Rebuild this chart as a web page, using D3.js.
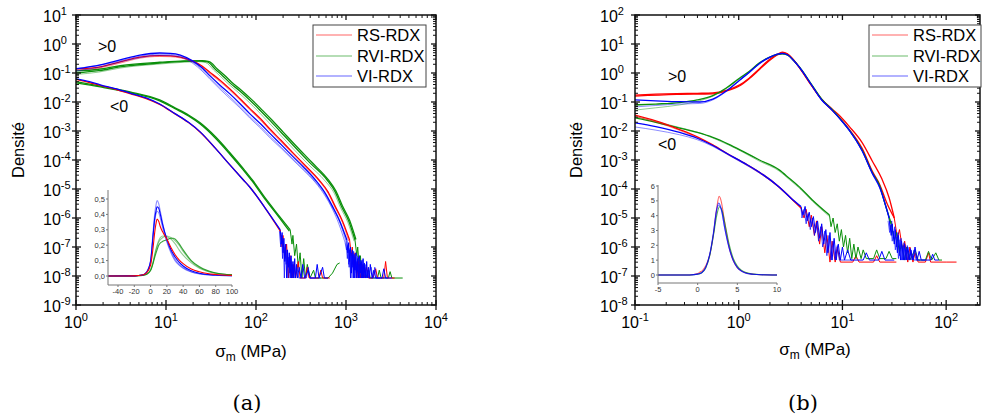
<!DOCTYPE html>
<html><head><meta charset="utf-8">
<script src="https://cdn.jsdelivr.net/npm/d3@7"></script>
<style>body{margin:0;background:#fff} text{font-family:"Liberation Sans",Arial,sans-serif;fill:#000}</style>
</head><body><svg id="c" width="985" height="417"></svg>
<script>
// ---------- DATA (pairs are [log10 sigma_m, log10 density]) ----------
const seriesNames = ["RS-RDX","RVI-RDX","VI-RDX"];
const seriesColors = ["#ff0000","#0a8f0a","#0000ff"];

// Panel (a), positive stresses
const aPosRS1 = [[0,-0.86],[0.27,-0.79],[0.49,-0.62],[0.71,-0.45],[0.93,-0.40],[1.05,-0.41],[1.16,-0.45],[1.3,-0.59],[1.4,-0.76],[1.49,-0.98],[1.6,-1.25],[1.71,-1.55],[1.82,-1.88],[1.93,-2.22],[2.05,-2.58],[2.16,-2.95],[2.28,-3.33],[2.4,-3.72],[2.55,-4.2],[2.7,-4.69],[2.8,-5.1],[2.88,-5.6],[2.96,-6.1],[3.04,-6.76]];
const aPosRS2 = [[0,-0.9],[0.27,-0.82],[0.49,-0.66],[0.71,-0.49],[0.93,-0.43],[1.05,-0.44],[1.16,-0.48],[1.3,-0.62],[1.4,-0.8],[1.49,-1.03],[1.6,-1.3],[1.71,-1.6],[1.82,-1.93],[1.93,-2.27],[2.05,-2.63],[2.16,-3.0],[2.28,-3.38],[2.4,-3.77],[2.55,-4.25],[2.7,-4.72],[2.8,-5.15],[2.88,-5.65],[2.96,-6.15],[3.03,-6.8]];
const aPosRVI1 = [[0,-1.0],[0.25,-0.92],[0.49,-0.79],[0.93,-0.66],[1.2,-0.60],[1.38,-0.59],[1.46,-0.62],[1.55,-0.88],[1.63,-1.1],[1.71,-1.34],[1.82,-1.62],[1.93,-1.93],[2.05,-2.3],[2.16,-2.65],[2.28,-3.05],[2.4,-3.45],[2.6,-4.1],[2.79,-4.69],[2.88,-5.1],[2.95,-5.6],[3.03,-6.1],[3.1,-6.76]];
const aPosRVI2 = [[0,-0.93],[0.25,-0.87],[0.49,-0.75],[0.93,-0.63],[1.2,-0.58],[1.4,-0.57],[1.48,-0.61],[1.57,-0.86],[1.65,-1.08],[1.73,-1.32],[1.84,-1.6],[1.95,-1.91],[2.07,-2.28],[2.18,-2.63],[2.3,-3.03],[2.42,-3.43],[2.62,-4.08],[2.8,-4.67],[2.89,-5.08],[2.96,-5.58],[3.04,-6.08],[3.11,-6.74]];
const aPosRVI3 = [[0,-1.05],[0.25,-0.97],[0.49,-0.83],[0.93,-0.69],[1.2,-0.63],[1.36,-0.61],[1.44,-0.64],[1.53,-0.9],[1.61,-1.13],[1.69,-1.37],[1.8,-1.66],[1.91,-1.97],[2.03,-2.34],[2.14,-2.7],[2.26,-3.1],[2.38,-3.5],[2.58,-4.15],[2.77,-4.73],[2.87,-5.15],[2.94,-5.65],[3.02,-6.15],[3.09,-6.8]];
const aPosVI1 = [[0,-0.86],[0.27,-0.72],[0.49,-0.55],[0.71,-0.38],[0.93,-0.31],[1.05,-0.32],[1.16,-0.38],[1.3,-0.59],[1.4,-0.82],[1.49,-1.10],[1.6,-1.42],[1.71,-1.72],[1.82,-2.05],[1.93,-2.40],[2.05,-2.75],[2.16,-3.10],[2.28,-3.47],[2.4,-3.85],[2.53,-4.25],[2.66,-4.69],[2.76,-5.1],[2.85,-5.6],[2.93,-6.1],[3.01,-6.76]];
const aPosVI2 = [[0,-0.84],[0.27,-0.73],[0.49,-0.58],[0.71,-0.42],[0.93,-0.35],[1.05,-0.36],[1.16,-0.41],[1.3,-0.63],[1.4,-0.88],[1.49,-1.17],[1.6,-1.5],[1.71,-1.82],[1.82,-2.15],[1.93,-2.5],[2.05,-2.85],[2.16,-3.2],[2.28,-3.56],[2.4,-3.93],[2.53,-4.32],[2.66,-4.75],[2.76,-5.15],[2.85,-5.65],[2.93,-6.15],[3.0,-6.8]];
const aPosVI3 = [[0,-0.93],[0.27,-0.79],[0.49,-0.62],[0.71,-0.47],[0.93,-0.39],[1.05,-0.4],[1.16,-0.45],[1.3,-0.67],[1.4,-0.93],[1.49,-1.22],[1.6,-1.56],[1.71,-1.88],[1.82,-2.2],[1.93,-2.55],[2.05,-2.9],[2.16,-3.25],[2.28,-3.6],[2.4,-3.97],[2.53,-4.36],[2.66,-4.78],[2.76,-5.2],[2.85,-5.7],[2.92,-6.2],[2.99,-6.85]];
// Panel (a), negative stresses
const aNegRS = [[0,-1.22],[0.15,-1.33],[0.27,-1.43],[0.45,-1.57],[0.6,-1.71],[0.78,-1.88],[0.93,-2.08],[1.1,-2.41],[1.25,-2.71],[1.38,-3.04],[1.55,-3.6],[1.71,-4.17],[1.86,-4.69],[1.93,-4.93],[2.1,-5.65],[2.27,-6.45]];
const aNegVI = [[0,-1.2],[0.15,-1.3],[0.27,-1.41],[0.45,-1.55],[0.6,-1.69],[0.78,-1.86],[0.93,-2.07],[1.1,-2.4],[1.25,-2.7],[1.38,-3.03],[1.55,-3.6],[1.71,-4.17],[1.86,-4.69],[1.93,-4.93],[2.1,-5.65],[2.27,-6.41]];
const aNegRVI = [[0,-1.3],[0.27,-1.45],[0.6,-1.65],[0.93,-1.93],[1.1,-2.2],[1.25,-2.45],[1.38,-2.72],[1.55,-3.2],[1.71,-3.75],[1.86,-4.3],[1.96,-4.69],[2.1,-5.3],[2.25,-5.9],[2.38,-6.41]];
const aNegRVI2 = [[0,-1.34],[0.27,-1.48],[0.6,-1.68],[0.93,-1.96],[1.1,-2.23],[1.25,-2.48],[1.38,-2.76],[1.55,-3.25],[1.71,-3.8],[1.86,-4.35],[1.96,-4.74],[2.1,-5.35],[2.25,-5.95],[2.37,-6.45]];
// Panel (a), noisy tails
const aTailPosVI = [[3.01,-6.76],[3.02,-7.2],[3.03,-6.85],[3.04,-7.5],[3.05,-7.0],[3.06,-7.9],[3.07,-7.1],[3.08,-8.07],[3.09,-7.25],[3.1,-7.8],[3.11,-7.2],[3.12,-8.07],[3.13,-7.4],[3.14,-8.07],[3.15,-7.3],[3.16,-7.9],[3.17,-7.5],[3.18,-8.07],[3.19,-7.4],[3.2,-8.07],[3.21,-7.6],[3.22,-8.07],[3.23,-7.5],[3.24,-8.07],[3.25,-7.7],[3.26,-8.07],[3.27,-7.6],[3.29,-8.07],[3.31,-7.8],[3.33,-8.07],[3.4,-8.07],[3.42,-7.75],[3.44,-8.07],[3.51,-8.07]];
const aTailPosVI2 = [[3.0,-6.8],[3.015,-7.4],[3.025,-6.9],[3.035,-7.7],[3.045,-7.05],[3.055,-8.07],[3.065,-7.3],[3.075,-7.7],[3.085,-7.15],[3.095,-8.07],[3.105,-7.5],[3.115,-7.9],[3.125,-7.3],[3.135,-8.07],[3.145,-7.6],[3.155,-8.07],[3.165,-7.45],[3.175,-8.07],[3.185,-7.7],[3.195,-8.07],[3.205,-7.55],[3.215,-8.07],[3.235,-7.8],[3.255,-8.07],[3.3,-8.07],[3.32,-7.7],[3.34,-8.07],[3.46,-8.07]];
const aTailPosVI3 = [[2.99,-6.85],[3.005,-7.1],[3.02,-6.95],[3.03,-7.6],[3.04,-7.1],[3.05,-8.07],[3.06,-7.2],[3.07,-7.6],[3.08,-7.3],[3.09,-8.07],[3.1,-7.35],[3.11,-8.07],[3.12,-7.5],[3.13,-7.85],[3.14,-7.35],[3.15,-8.07],[3.16,-7.55],[3.17,-8.07],[3.18,-7.45],[3.19,-8.07],[3.21,-7.7],[3.23,-8.07],[3.28,-7.7],[3.3,-8.07],[3.38,-8.07]];
const aTailPosRS = [[3.04,-6.76],[3.06,-7.3],[3.07,-7.0],[3.09,-7.8],[3.1,-7.2],[3.12,-8.07],[3.14,-7.5],[3.16,-8.07],[3.18,-7.6],[3.2,-8.07],[3.23,-7.7],[3.25,-8.07],[3.3,-8.07],[3.33,-7.75],[3.35,-8.07],[3.42,-8.07],[3.44,-7.5],[3.46,-8.07],[3.54,-8.07]];
const aTailPosRVI = [[3.1,-6.76],[3.12,-7.3],[3.13,-7.0],[3.15,-7.8],[3.16,-7.3],[3.18,-8.07],[3.2,-7.6],[3.22,-8.07],[3.25,-7.8],[3.27,-8.07],[3.35,-8.07],[3.37,-7.8],[3.39,-8.07],[3.47,-8.07],[3.49,-7.85],[3.51,-8.07],[3.63,-8.07]];
const aTailNegVI = [[2.27,-6.41],[2.28,-6.9],[2.29,-6.5],[2.3,-7.2],[2.31,-6.7],[2.32,-7.5],[2.33,-6.9],[2.34,-8.07],[2.35,-7.1],[2.36,-7.7],[2.37,-7.2],[2.38,-8.07],[2.39,-7.3],[2.4,-8.07],[2.41,-7.5],[2.42,-8.07],[2.43,-7.4],[2.44,-8.07],[2.45,-7.6],[2.46,-8.07],[2.48,-7.7],[2.5,-8.07],[2.52,-7.6],[2.54,-8.07],[2.58,-7.8],[2.6,-8.07],[2.66,-8.07],[2.68,-7.6],[2.7,-8.07],[2.74,-7.7],[2.76,-8.07],[2.8,-8.07]];
const aTailNegVI2 = [[2.26,-6.45],[2.275,-7.0],[2.285,-6.6],[2.295,-7.4],[2.305,-6.8],[2.315,-8.07],[2.325,-7.0],[2.335,-7.6],[2.345,-7.1],[2.355,-8.07],[2.365,-7.35],[2.375,-7.9],[2.385,-7.4],[2.395,-8.07],[2.405,-7.6],[2.415,-8.07],[2.425,-7.5],[2.435,-8.07],[2.455,-7.7],[2.475,-8.07],[2.56,-8.07],[2.58,-7.7],[2.6,-8.07],[2.72,-8.07]];
const aTailNegRS = [[2.27,-6.45],[2.29,-7.0],[2.3,-6.6],[2.32,-7.4],[2.34,-6.9],[2.36,-8.07],[2.38,-7.3],[2.4,-8.07],[2.42,-7.6],[2.44,-8.07],[2.47,-7.5],[2.49,-8.07],[2.55,-8.07],[2.57,-7.7],[2.59,-8.07],[2.7,-8.07],[2.72,-7.8],[2.74,-8.07],[2.82,-8.07]];
const aTailNegRVI = [[2.38,-6.41],[2.4,-6.9],[2.41,-6.6],[2.43,-7.3],[2.45,-6.9],[2.47,-7.7],[2.49,-7.2],[2.51,-8.07],[2.53,-7.4],[2.55,-8.07],[2.57,-7.6],[2.6,-8.07],[2.64,-7.8],[2.66,-8.07],[2.8,-8.07],[2.85,-7.9],[2.9,-7.6],[2.93,-7.55]];

// Panel (b), positive stresses
const bPosRS1 = [[-1,-0.76],[-0.8,-0.73],[-0.6,-0.71],[-0.4,-0.70],[-0.25,-0.69],[-0.12,-0.6],[0.01,-0.41],[0.1,-0.18],[0.2,0.15],[0.3,0.47],[0.37,0.64],[0.42,0.72],[0.47,0.66],[0.53,0.45],[0.587,0.18],[0.7,-0.42],[0.8,-0.92],[0.9,-1.28],[0.98,-1.58],[1.067,-1.95],[1.19,-2.6],[1.29,-3.4],[1.36,-3.85],[1.43,-4.5],[1.5,-5.0]];
const bPosRS2 = [[-1,-0.8],[-0.6,-0.74],[-0.25,-0.72],[-0.12,-0.62],[0.01,-0.44],[0.1,-0.2],[0.2,0.12],[0.3,0.44],[0.37,0.62],[0.42,0.69],[0.47,0.64],[0.53,0.44],[0.587,0.18],[0.7,-0.42],[0.8,-0.9],[0.9,-1.24],[0.98,-1.5],[1.067,-1.85],[1.19,-2.4],[1.29,-3.05],[1.38,-3.65],[1.45,-4.3],[1.5,-5.0]];
const bPosRVI1 = [[-1,-1.1],[-0.8,-1.07],[-0.57,-1.02],[-0.4,-0.93],[-0.25,-0.78],[-0.12,-0.52],[0.01,-0.17],[0.1,0.05],[0.2,0.35],[0.3,0.55],[0.37,0.64],[0.42,0.66],[0.47,0.62],[0.53,0.43],[0.587,0.2],[0.7,-0.38],[0.8,-0.9],[0.9,-1.26],[0.98,-1.58],[1.067,-1.97],[1.19,-2.66],[1.29,-3.45],[1.36,-3.9],[1.41,-4.5],[1.47,-5.2]];
const bPosRVI2 = [[-1,-1.28],[-0.8,-1.2],[-0.57,-1.1],[-0.4,-0.98],[-0.25,-0.8],[-0.12,-0.54],[0.01,-0.19],[0.1,0.04],[0.2,0.34],[0.3,0.54],[0.37,0.63],[0.42,0.65],[0.47,0.61],[0.53,0.42],[0.587,0.19],[0.7,-0.39],[0.8,-0.91],[0.9,-1.27],[0.98,-1.6],[1.067,-1.99],[1.19,-2.68],[1.29,-3.47],[1.36,-3.92],[1.41,-4.52],[1.47,-5.2]];
const bPosVI1 = [[-1,-0.93],[-0.8,-0.96],[-0.57,-0.99],[-0.375,-1.0],[-0.25,-0.9],[-0.12,-0.62],[0.01,-0.24],[0.1,0.02],[0.2,0.33],[0.3,0.55],[0.37,0.65],[0.42,0.68],[0.47,0.63],[0.53,0.43],[0.587,0.19],[0.7,-0.4],[0.8,-0.93],[0.9,-1.28],[0.98,-1.6],[1.067,-1.98],[1.19,-2.68],[1.29,-3.47],[1.36,-3.95],[1.45,-5.0]];
const bPosVI2 = [[-1,-1.17],[-0.8,-1.12],[-0.57,-1.07],[-0.375,-1.05],[-0.25,-0.93],[-0.12,-0.64],[0.01,-0.26],[0.1,0.0],[0.2,0.31],[0.3,0.53],[0.37,0.63],[0.42,0.66],[0.47,0.62],[0.53,0.42],[0.587,0.18],[0.7,-0.41],[0.8,-0.94],[0.9,-1.29],[0.98,-1.61],[1.067,-2.0],[1.19,-2.7],[1.29,-3.5],[1.36,-3.98],[1.45,-5.0]];
// Panel (b), negative stresses
const bNegRS = [[-1,-1.45],[-0.8,-1.65],[-0.57,-1.95],[-0.4,-2.2],[-0.25,-2.48],[-0.1,-2.8],[0.05,-3.1],[0.2,-3.42],[0.39,-3.93],[0.5,-4.3],[0.6,-4.65]];
const bNegRS2 = [[-1,-1.5],[-0.8,-1.69],[-0.57,-1.98],[-0.4,-2.23],[-0.25,-2.5],[-0.1,-2.82],[0.05,-3.12],[0.2,-3.45],[0.39,-3.96],[0.5,-4.33],[0.6,-4.67]];
const bNegVI1 = [[-1,-1.72],[-0.8,-1.85],[-0.57,-2.05],[-0.4,-2.25],[-0.25,-2.5],[-0.1,-2.8],[0.05,-3.1],[0.2,-3.42],[0.39,-3.93],[0.5,-4.3],[0.6,-4.6]];
const bNegVI2 = [[-1,-1.86],[-0.8,-1.97],[-0.57,-2.13],[-0.4,-2.3],[-0.25,-2.53],[-0.1,-2.83],[0.05,-3.13],[0.2,-3.45],[0.39,-3.95],[0.5,-4.32],[0.6,-4.62]];
const bNegRVI1 = [[-1,-1.55],[-0.8,-1.7],[-0.57,-1.9],[-0.4,-2.05],[-0.25,-2.22],[-0.1,-2.45],[0.05,-2.72],[0.2,-3.0],[0.39,-3.34],[0.49,-3.64],[0.6,-3.98],[0.71,-4.38],[0.875,-4.9]];
const bNegRVI2 = [[-1,-1.5],[-0.8,-1.67],[-0.57,-1.88],[-0.4,-2.04],[-0.25,-2.24],[-0.1,-2.48],[0.05,-2.75],[0.2,-3.04],[0.39,-3.38],[0.49,-3.68],[0.6,-4.02],[0.71,-4.42],[0.875,-4.95]];
// Panel (b), noisy tails
const bTailPosVI = [[1.45,-5.0],[1.47,-5.6],[1.48,-5.2],[1.5,-5.9],[1.51,-5.4],[1.53,-6.2],[1.54,-5.6],[1.56,-6.45],[1.57,-5.8],[1.59,-6.45],[1.6,-5.9],[1.62,-6.45],[1.63,-6.0],[1.65,-6.45],[1.66,-6.1],[1.68,-6.45],[1.7,-6.0],[1.72,-6.45],[1.74,-6.15],[1.76,-6.45],[1.85,-6.45],[1.87,-6.25],[1.89,-6.45],[1.93,-6.45]];
const bTailPosVI2 = [[1.45,-5.0],[1.46,-5.4],[1.475,-5.1],[1.49,-5.7],[1.505,-5.3],[1.52,-6.0],[1.535,-5.5],[1.55,-6.3],[1.565,-5.7],[1.58,-6.45],[1.595,-5.85],[1.61,-6.45],[1.625,-5.95],[1.64,-6.45],[1.655,-6.05],[1.67,-6.45],[1.69,-6.1],[1.71,-6.45],[1.8,-6.45]];
const bTailPosVI3 = [[1.44,-5.1],[1.455,-5.5],[1.465,-5.25],[1.48,-5.8],[1.495,-5.45],[1.51,-6.1],[1.525,-5.65],[1.54,-6.4],[1.555,-5.75],[1.57,-6.45],[1.585,-5.95],[1.6,-6.45],[1.615,-6.05],[1.63,-6.45],[1.66,-6.2],[1.69,-6.45],[1.75,-6.45]];
const bTailPosRS = [[1.5,-5.0],[1.53,-5.7],[1.55,-5.4],[1.58,-6.1],[1.6,-5.8],[1.63,-6.52],[1.65,-6.0],[1.68,-6.52],[1.7,-6.2],[1.73,-6.52],[1.8,-6.52],[1.83,-6.2],[1.85,-6.52],[2.0,-6.52],[2.1,-6.52]];
const bTailPosRVI = [[1.47,-5.2],[1.5,-5.8],[1.52,-5.5],[1.55,-6.2],[1.57,-5.9],[1.6,-6.45],[1.62,-6.0],[1.65,-6.45],[1.7,-6.1],[1.73,-6.45],[1.8,-6.45],[1.83,-6.15],[1.86,-6.45],[1.9,-6.2],[1.93,-6.45],[1.96,-6.45]];
const bTailNegVI = [[0.6,-4.6],[0.62,-4.9],[0.64,-4.6],[0.66,-5.1],[0.68,-4.8],[0.7,-5.3],[0.72,-4.95],[0.74,-5.5],[0.76,-5.1],[0.78,-5.7],[0.8,-5.2],[0.82,-5.9],[0.84,-5.4],[0.86,-6.2],[0.88,-5.5],[0.9,-6.45],[0.92,-5.7],[0.94,-6.45],[0.96,-5.9],[0.98,-6.45],[1.0,-6.0],[1.02,-6.45],[1.05,-6.1],[1.08,-6.45],[1.2,-6.45],[1.23,-6.2],[1.26,-6.45],[1.35,-6.45],[1.38,-6.15],[1.41,-6.45],[1.5,-6.45]];
const bTailNegVI2 = [[0.6,-4.62],[0.61,-5.0],[0.63,-4.7],[0.65,-5.2],[0.67,-4.85],[0.69,-5.4],[0.71,-5.0],[0.73,-5.6],[0.75,-5.15],[0.77,-5.8],[0.79,-5.3],[0.81,-6.0],[0.83,-5.45],[0.85,-6.3],[0.87,-5.6],[0.89,-6.45],[0.91,-5.8],[0.93,-6.45],[0.95,-5.95],[0.97,-6.45],[1.1,-6.45]];
const bTailNegRS = [[0.6,-4.65],[0.63,-5.0],[0.65,-4.7],[0.68,-5.3],[0.7,-4.9],[0.73,-5.6],[0.75,-5.1],[0.78,-5.9],[0.8,-5.3],[0.83,-6.2],[0.85,-5.6],[0.88,-6.52],[0.9,-5.8],[0.93,-6.52],[0.95,-6.0],[0.98,-6.52],[1.1,-6.52],[1.13,-6.3],[1.16,-6.52],[1.3,-6.52],[1.33,-6.3],[1.36,-6.52],[1.52,-6.52]];
const bTailNegRVI = [[0.875,-4.9],[0.89,-5.3],[0.91,-5.0],[0.93,-5.5],[0.95,-5.2],[0.97,-5.8],[0.99,-5.4],[1.01,-6.0],[1.03,-5.6],[1.05,-6.2],[1.07,-5.7],[1.09,-6.4],[1.11,-5.9],[1.13,-6.4],[1.15,-6.0],[1.18,-6.4],[1.2,-6.1],[1.23,-6.4],[1.3,-6.4],[1.33,-6.1],[1.36,-6.4],[1.42,-6.4],[1.45,-6.15],[1.48,-6.4],[1.52,-6.4]];

// Insets (linear: sigma_m, density)
const aInsetRS = [[-52,0],[-30,0],[-20,0.001],[-10,0.006],[-5,0.02],[0,0.07],[3,0.18],[5,0.28],[7,0.35],[8,0.37],[10,0.355],[12,0.32],[15,0.285],[20,0.24],[25,0.185],[30,0.14],[35,0.105],[40,0.08],[50,0.045],[60,0.027],[70,0.016],[80,0.01],[100,0.004]];
const aInsetVI1 = [[-52,0],[-20,0.001],[-10,0.006],[-5,0.025],[0,0.1],[3,0.28],[5,0.4],[7,0.47],[8,0.49],[10,0.47],[12,0.42],[15,0.34],[20,0.23],[25,0.16],[30,0.11],[35,0.075],[40,0.055],[50,0.028],[60,0.015],[80,0.005],[100,0.002]];
const aInsetVI2 = [[-52,0],[-20,0.001],[-10,0.006],[-5,0.024],[0,0.095],[3,0.26],[5,0.37],[7,0.43],[8,0.45],[10,0.44],[12,0.40],[15,0.33],[20,0.24],[25,0.17],[30,0.125],[35,0.09],[40,0.065],[50,0.034],[60,0.018],[80,0.006],[100,0.002]];
const aInsetVI3 = [[-52,0],[-20,0.001],[-10,0.006],[-5,0.022],[0,0.09],[3,0.25],[5,0.35],[7,0.41],[8,0.42],[10,0.41],[12,0.375],[15,0.31],[20,0.22],[25,0.15],[30,0.1],[35,0.07],[40,0.05],[50,0.026],[60,0.014],[80,0.005],[100,0.002]];
const aInsetRVI1 = [[-52,0],[-20,0.001],[-10,0.004],[-5,0.012],[0,0.04],[3,0.09],[5,0.14],[8,0.2],[10,0.23],[12,0.25],[15,0.26],[18,0.26],[20,0.255],[25,0.24],[30,0.21],[35,0.17],[40,0.135],[50,0.085],[60,0.05],[70,0.03],[80,0.018],[100,0.007]];
const aInsetRVI2 = [[-52,0],[-20,0.001],[-10,0.004],[-5,0.01],[0,0.035],[3,0.08],[5,0.12],[8,0.17],[10,0.2],[12,0.215],[15,0.225],[20,0.235],[25,0.245],[28,0.245],[30,0.24],[35,0.21],[40,0.17],[50,0.1],[60,0.06],[70,0.035],[80,0.02],[100,0.008]];
const aInsetRVI3 = [[-52,0],[-20,0.001],[-10,0.004],[-5,0.011],[0,0.037],[3,0.085],[5,0.13],[8,0.19],[10,0.22],[15,0.25],[20,0.26],[25,0.25],[30,0.23],[35,0.2],[40,0.16],[50,0.095],[60,0.055],[70,0.032],[80,0.019],[100,0.007]];
const bInsetRS = [[-5,0],[-1,0.005],[0,0.1],[0.3,0.2],[0.6,0.3],[1,0.6],[1.5,1.3],[2,2.8],[2.4,4.5],[2.7,5.3],[3,4.9],[3.3,3.9],[3.7,2.6],[4,1.8],[4.5,0.95],[5,0.5],[5.5,0.28],[6,0.15],[7,0.05],[8,0.02],[10,0.004]];
const bInsetRVI = [[-5,0],[-1,0.005],[0,0.05],[0.5,0.15],[1,0.45],[1.5,1.25],[2,2.7],[2.4,4.0],[2.75,4.6],[3.1,4.3],[3.5,3.3],[4,2.0],[4.5,1.1],[5,0.6],[5.5,0.33],[6,0.18],[7,0.06],[8,0.02],[10,0.004]];
const bInsetVI1 = [[-5,0],[-1,0.005],[0,0.06],[0.5,0.15],[1,0.5],[1.5,1.35],[2,2.9],[2.35,4.3],[2.65,4.85],[3,4.4],[3.4,3.2],[4,1.75],[4.5,0.95],[5,0.5],[5.5,0.27],[6,0.14],[7,0.05],[8,0.015],[10,0.003]];
const bInsetVI2 = [[-5,0],[-1,0.005],[0,0.06],[0.5,0.15],[1,0.48],[1.5,1.3],[2,2.8],[2.35,4.2],[2.65,4.7],[3,4.35],[3.4,3.2],[4,1.8],[4.5,1.0],[5,0.52],[5.5,0.28],[6,0.15],[7,0.05],[8,0.015],[10,0.003]];

const aInsetXTicks = [-40,-20,0,20,40,60,80,100];
const aInsetYTicks = [0,0.1,0.2,0.3,0.4,0.5];
const bInsetXTicks = [-5,0,5,10];
const bInsetYTicks = [0,1,2,3,4,5,6];

// ---------- DRAWING ----------
const svg = d3.select("#c");
const defs = svg.append("defs");
const [RS, RVI, VI] = seriesColors;

function drawPanel(cfg){
  const xs = d3.scaleLog().domain(cfg.xDom).range([cfg.x0, cfg.x1]);
  const ys = d3.scaleLog().domain(cfg.yDom).range([cfg.y1, cfg.y0]);
  defs.append("clipPath").attr("id","clip"+cfg.id).append("rect")
    .attr("x",cfg.x0).attr("y",cfg.y0).attr("width",cfg.x1-cfg.x0).attr("height",cfg.y1-cfg.y0);
  const g = svg.append("g").attr("clip-path","url(#clip"+cfg.id+")");
  const smooth = d3.line().x(d=>xs(Math.pow(10,d[0]))).y(d=>ys(Math.pow(10,d[1]))).curve(d3.curveMonotoneX);
  const straight = d3.line().x(d=>xs(Math.pow(10,d[0]))).y(d=>ys(Math.pow(10,d[1])));
  cfg.tails.forEach(t=>{
    g.append("path").attr("d",straight(t.d)).attr("fill","none").attr("stroke",t.c)
      .attr("stroke-width",1).attr("stroke-opacity",t.o);
  });
  cfg.curves.forEach(t=>{
    g.append("path").attr("d",smooth(t.d)).attr("fill","none").attr("stroke",t.c)
      .attr("stroke-width",t.o<1?1:1.3).attr("stroke-opacity",t.o);
  });
  // frame
  const ax = svg.append("g");
  ax.append("rect").attr("x",cfg.x0).attr("y",cfg.y0).attr("width",cfg.x1-cfg.x0).attr("height",cfg.y1-cfg.y0)
    .attr("fill","none").attr("stroke","#111").attr("stroke-width",1.5);
  const lx0 = Math.round(Math.log10(cfg.xDom[0])), lx1 = Math.floor(Math.log10(cfg.xDom[1])+1e-9);
  const ly0 = Math.round(Math.log10(cfg.yDom[0])), ly1 = Math.round(Math.log10(cfg.yDom[1]));
  const tk = (x1,y1,x2,y2,w)=>ax.append("line").attr("x1",x1).attr("y1",y1).attr("x2",x2).attr("y2",y2).attr("stroke","#111").attr("stroke-width",w);
  // x ticks
  for(let k=lx0;k<=lx1+1;k++){
    for(let m=1;m<10;m++){
      const v = m*Math.pow(10,k);
      if(v<cfg.xDom[0]*0.999 || v>cfg.xDom[1]*1.001) continue;
      const x = xs(v);
      if(m===1){ tk(x,cfg.y1+5,x,cfg.y1-5,1.3); tk(x,cfg.y0,x,cfg.y0+5,1.3); }
      else { tk(x,cfg.y1,x,cfg.y1-3,1); tk(x,cfg.y0,x,cfg.y0+3,1); }
    }
  }
  for(let k=lx0;k<=lx1;k++){
    const t = ax.append("text").attr("x",xs(Math.pow(10,k))).attr("y",328).attr("text-anchor","middle");
    t.append("tspan").attr("font-size",16).text("10");
    t.append("tspan").attr("font-size",11).attr("dy",-7).text(String(k));
  }
  // y ticks
  for(let k=ly0;k<=ly1;k++){
    for(let m=1;m<10;m++){
      const v = m*Math.pow(10,k);
      if(v<cfg.yDom[0]*0.999 || v>cfg.yDom[1]*1.001) continue;
      const y = ys(v);
      if(m===1){ tk(cfg.x0-4,y,cfg.x0+5,y,1.3); tk(cfg.x1,y,cfg.x1-5,y,1.3); }
      else { tk(cfg.x0,y,cfg.x0+3,y,1); tk(cfg.x1,y,cfg.x1-3,y,1); }
    }
    const t = ax.append("text").attr("x",cfg.x0-cfg.labOff).attr("y",ys(Math.pow(10,k))+7).attr("text-anchor","start");
    t.append("tspan").attr("font-size",16).text("10");
    t.append("tspan").attr("font-size",11).attr("dy",-7).text(String(k));
  }
  // titles
  ax.append("text").attr("transform",`translate(${cfg.ytX},${cfg.ytY}) rotate(-90)`).attr("text-anchor","middle")
    .attr("font-size",16.5).text("Densité");
  const xt = ax.append("text").attr("x",cfg.xtX).attr("y",cfg.xtY).attr("text-anchor","middle").attr("font-size",17);
  xt.append("tspan").text("σ");
  xt.append("tspan").attr("font-size",12).attr("dy",4).text("m");
  xt.append("tspan").attr("dy",-4).text(" (MPa)");
  ax.append("text").attr("x",cfg.posX).attr("y",cfg.posY).attr("font-size",16).text(">0");
  ax.append("text").attr("x",cfg.negX).attr("y",cfg.negY).attr("font-size",16).text("<0");
  ax.append("text").attr("x",cfg.capX).attr("y",410).attr("text-anchor","middle")
    .style("font-family","'DejaVu Serif','Liberation Serif',serif").attr("font-size",21).text(cfg.caption);
  // legend
  const L = cfg.leg;
  ax.append("rect").attr("x",L.x).attr("y",25).attr("width",L.w).attr("height",62)
    .attr("fill","#fff").attr("stroke","#444").attr("stroke-width",1);
  seriesNames.forEach((n,i)=>{
    const y = [35,56,76][i];
    ax.append("line").attr("x1",L.x+3).attr("x2",L.x+39).attr("y1",y).attr("y2",y)
      .attr("stroke",seriesColors[i]).attr("stroke-opacity",0.6).attr("stroke-width",1.2);
    ax.append("text").attr("x",L.x+44).attr("y",y+6).attr("font-size",16.5).text(n);
  });
  // inset
  const I = cfg.inset;
  const ix = d3.scaleLinear().domain(I.xDom).range(I.xRange);
  const iy = d3.scaleLinear().domain(I.yDom).range(I.yRange);
  const ig = svg.append("g");
  const il = d3.line().x(d=>ix(d[0])).y(d=>iy(d[1])).curve(d3.curveMonotoneX);
  I.curves.forEach(t=>{
    ig.append("path").attr("d",il(t.d)).attr("fill","none").attr("stroke",t.c)
      .attr("stroke-opacity",t.o).attr("stroke-width",1.1);
  });
  ig.append("line").attr("x1",I.axX).attr("x2",I.axX).attr("y1",I.axTop).attr("y2",I.axY).attr("stroke","#777");
  ig.append("line").attr("x1",I.axX).attr("x2",I.xRange[1]).attr("y1",I.axY).attr("y2",I.axY).attr("stroke","#777");
  I.xTicks.forEach(v=>{
    ig.append("line").attr("x1",ix(v)).attr("x2",ix(v)).attr("y1",I.axY).attr("y2",I.axY+2).attr("stroke","#777");
    ig.append("text").attr("x",ix(v)).attr("y",I.axY+8.5).attr("text-anchor","middle").attr("font-size",7.5)
      .style("fill","#333").text(String(v));
  });
  I.yTicks.forEach(v=>{
    ig.append("line").attr("x1",I.axX-2).attr("x2",I.axX).attr("y1",iy(v)).attr("y2",iy(v)).attr("stroke","#777");
    ig.append("text").attr("x",I.axX-3).attr("y",iy(v)+2.5).attr("text-anchor","end").attr("font-size",7.5)
      .style("fill","#333").text(I.fmt(v));
  });
}

const LIGHT = 0.45;
drawPanel({
  id:"a", x0:76, x1:436, y0:15, y1:305, xDom:[1,1e4], yDom:[1e-9,10], labOff:33,
  ytX:24, ytY:150, xtX:251, xtY:357, posX:98, posY:52, negX:110, negY:112, capX:247, caption:"(a)",
  leg:{x:313, w:113},
  tails:[
    {d:aTailPosRVI,c:RVI,o:1},{d:aTailPosRS,c:RS,o:1},{d:aTailPosVI3,c:VI,o:0.6},{d:aTailPosVI2,c:VI,o:0.7},{d:aTailPosVI,c:VI,o:1},
    {d:aTailNegRVI,c:RVI,o:1},{d:aTailNegRS,c:RS,o:1},{d:aTailNegVI2,c:VI,o:0.7},{d:aTailNegVI,c:VI,o:1}
  ],
  curves:[
    {d:aPosRVI3,c:RVI,o:LIGHT},{d:aPosRVI2,c:RVI,o:1},{d:aPosRVI1,c:RVI,o:1},
    {d:aPosRS2,c:RS,o:LIGHT},{d:aPosRS1,c:RS,o:1},
    {d:aPosVI3,c:VI,o:LIGHT},{d:aPosVI2,c:VI,o:LIGHT},{d:aPosVI1,c:VI,o:1},
    {d:aNegRVI2,c:RVI,o:1},{d:aNegRVI,c:RVI,o:1},{d:aNegRS,c:RS,o:1},{d:aNegVI,c:VI,o:1}
  ],
  inset:{xDom:[-40,100], xRange:[118,232], yDom:[0,0.5], yRange:[276,199], axX:108, axY:285, axTop:190,
    xTicks:aInsetXTicks, yTicks:aInsetYTicks, fmt:v=>v.toFixed(1).replace(".",","),
    curves:[{d:aInsetRVI3,c:RVI,o:LIGHT},{d:aInsetRVI1,c:RVI,o:LIGHT},{d:aInsetRVI2,c:RVI,o:0.8},
      {d:aInsetVI1,c:VI,o:LIGHT},{d:aInsetVI3,c:VI,o:LIGHT},{d:aInsetVI2,c:VI,o:1},{d:aInsetRS,c:RS,o:1}]}
});
drawPanel({
  id:"b", x0:635, x1:980, y0:15, y1:305, xDom:[0.1,212], yDom:[1e-8,100], labOff:35,
  ytX:582, ytY:150, xtX:815, xtY:355, posX:668, posY:82, negX:658, negY:150, capX:803, caption:"(b)",
  leg:{x:869, w:112},
  tails:[
    {d:bTailPosRS,c:RS,o:1},{d:bTailPosRVI,c:RVI,o:1},{d:bTailPosVI3,c:VI,o:0.6},{d:bTailPosVI2,c:VI,o:0.7},{d:bTailPosVI,c:VI,o:1},
    {d:bTailNegRS,c:RS,o:1},{d:bTailNegRVI,c:RVI,o:1},{d:bTailNegVI2,c:VI,o:0.7},{d:bTailNegVI,c:VI,o:1}
  ],
  curves:[
    {d:bPosRS2,c:RS,o:1},{d:bPosRS1,c:RS,o:1},{d:bPosRVI2,c:RVI,o:LIGHT},{d:bPosRVI1,c:RVI,o:1},
    {d:bPosVI2,c:VI,o:LIGHT},{d:bPosVI1,c:VI,o:1},
    {d:bNegRVI2,c:RVI,o:LIGHT},{d:bNegRVI1,c:RVI,o:1},{d:bNegRS2,c:RS,o:LIGHT},{d:bNegRS,c:RS,o:1},
    {d:bNegVI2,c:VI,o:LIGHT},{d:bNegVI1,c:VI,o:1}
  ],
  inset:{xDom:[-5,10], xRange:[658,777], yDom:[0,6], yRange:[275,186], axX:658, axY:283, axTop:185,
    xTicks:bInsetXTicks, yTicks:bInsetYTicks, fmt:v=>String(v),
    curves:[{d:bInsetRS,c:RS,o:0.6},{d:bInsetRVI,c:RVI,o:0.7},{d:bInsetVI2,c:VI,o:LIGHT},{d:bInsetVI1,c:VI,o:0.7}]}
});
</script></body></html>
